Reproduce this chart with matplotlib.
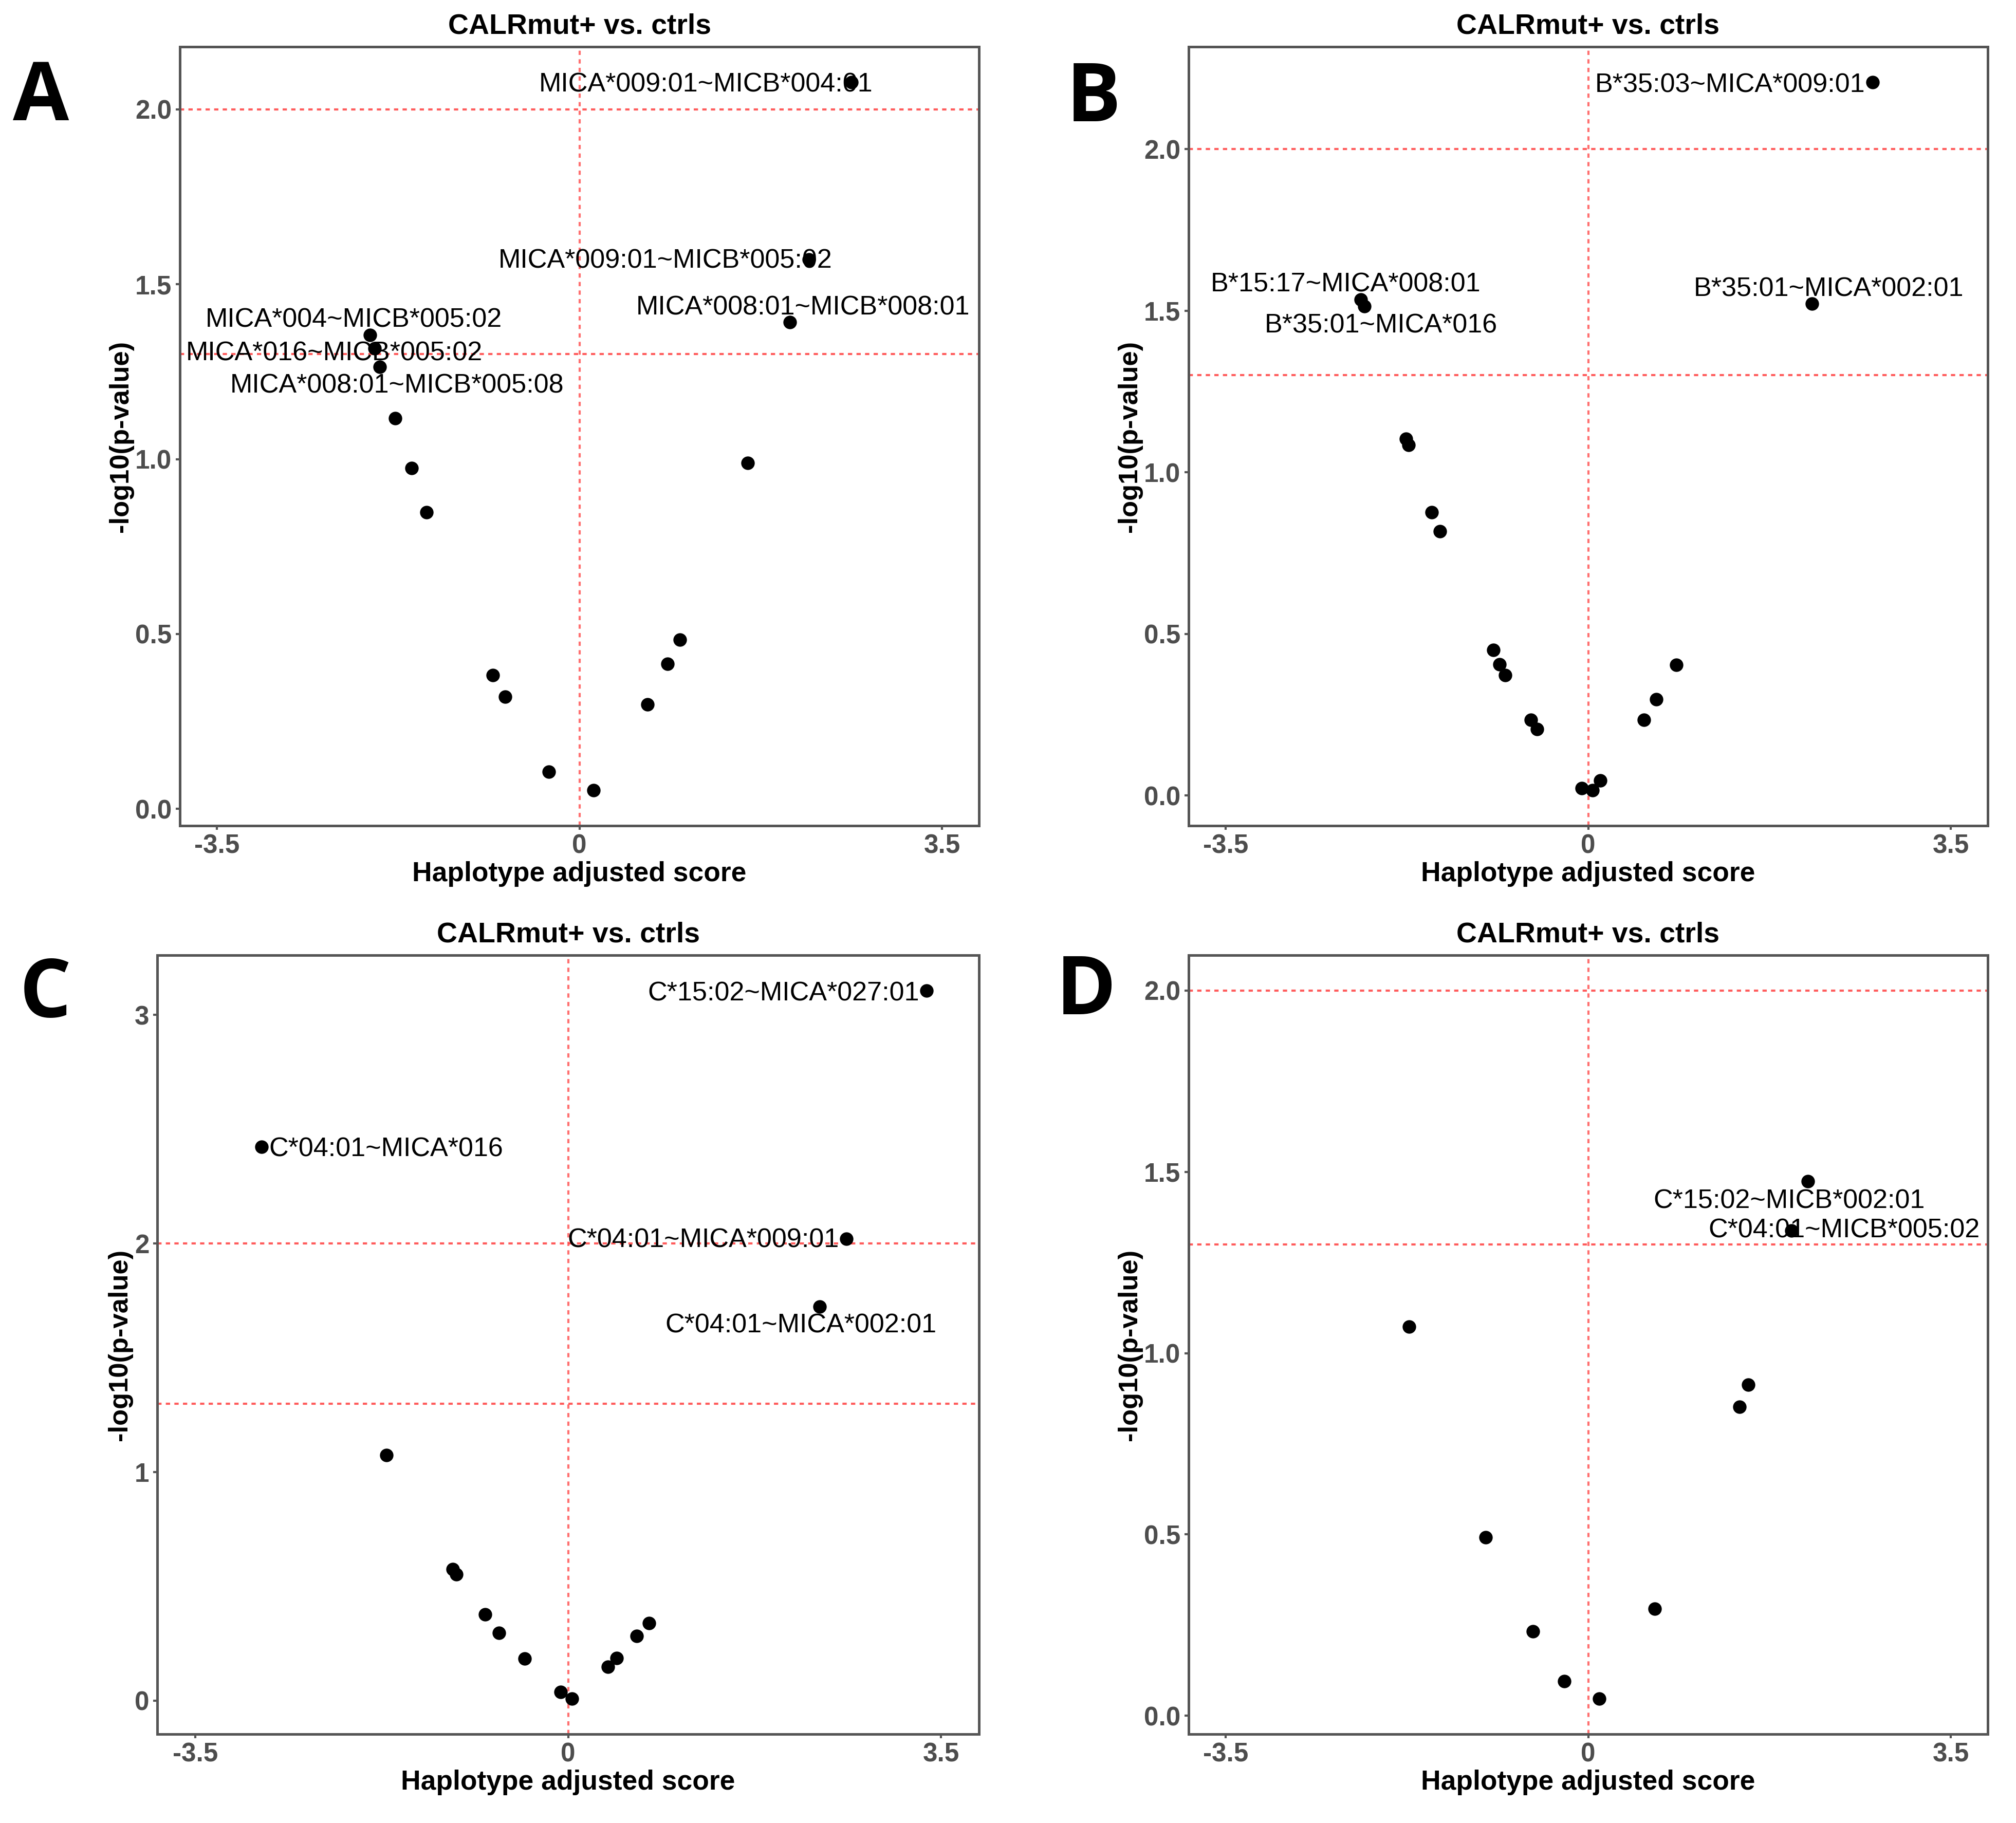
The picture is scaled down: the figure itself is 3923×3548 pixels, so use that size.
import numpy as np
import matplotlib
matplotlib.use("Agg")
import matplotlib.pyplot as plt

# ---------------- data ----------------
a_x = [2.625, 2.217, 2.032, -2.02, -1.977, -1.927, -1.779, -1.618, -1.476,
       -0.834, -0.716, -0.296, 0.136, 0.655, 0.852, 0.970, 1.624]
a_y = [2.078, 1.571, 1.392, 1.355, 1.317, 1.264, 1.117, 0.974, 0.848,
       0.382, 0.321, 0.106, 0.053, 0.298, 0.414, 0.484, 0.989]
a_labels = ["MICA*009:01~MICB*004:01", "MICA*009:01~MICB*005:02",
            "MICA*008:01~MICB*008:01", "MICA*004~MICB*005:02",
            "MICA*016~MICB*005:02", "MICA*008:01~MICB*005:08"]

b_x = [2.745, -2.193, -2.162, 2.162, -1.76, -1.735, -1.512, -1.431, -0.917,
       -0.855, -0.799, -0.551, -0.496, -0.062, 0.043, 0.118, 0.539, 0.657, 0.849]
b_y = [2.207, 1.535, 1.514, 1.521, 1.103, 1.085, 0.877, 0.818, 0.450,
       0.405, 0.373, 0.234, 0.205, 0.022, 0.016, 0.047, 0.234, 0.297, 0.404]
b_labels = ["B*35:03~MICA*009:01", "B*15:17~MICA*008:01",
            "B*35:01~MICA*016", "B*35:01~MICA*002:01"]

c_x = [3.367, -2.88, 2.614, 2.361, -1.705, -1.084, -1.048, -0.777, -0.651,
       -0.410, -0.072, 0.036, 0.373, 0.458, 0.645, 0.759]
c_y = [3.107, 2.423, 2.021, 1.724, 1.073, 0.575, 0.552, 0.376, 0.297,
       0.183, 0.038, 0.008, 0.147, 0.186, 0.282, 0.338]
c_labels = ["C*15:02~MICA*027:01", "C*04:01~MICA*016",
            "C*04:01~MICA*009:01", "C*04:01~MICA*002:01"]

d_x = [2.119, 1.964, -1.729, 1.543, 1.462, -0.991, 0.644, -0.533, -0.229, 0.105]
d_y = [1.474, 1.338, 1.073, 0.913, 0.852, 0.492, 0.295, 0.233, 0.095, 0.047]
d_labels = ["C*15:02~MICB*002:01", "C*04:01~MICB*005:02"]

x_ticks = [-3.5, 0, 3.5]
x_ticklabels = ["-3.5", "0", "3.5"]
y_ticks_half = [0.0, 0.5, 1.0, 1.5, 2.0]
y_ticks_int = [0, 1, 2, 3]
thresholds = [2.0, 1.3]
panel_letters = ["A", "B", "C", "D"]
title = "CALRmut+ vs. ctrls"
xlabel = "Haplotype adjusted score"
ylabel = "-log10(p-value)"

# ---------------- layout / style ----------------
label_pos = {
    "A": [(1.22, 2.07), (0.83, 1.566), (2.156, 1.433), (-2.18, 1.397),
          (-2.366, 1.302), (-1.76, 1.209)],
    "B": [(1.369, 2.198), (-2.342, 1.580), (-2.0, 1.454), (2.323, 1.566)],
    "C": [(2.024, 3.094), (-1.71, 2.413), (1.271, 2.014), (2.187, 1.640)],
    "D": [(1.939, 1.419), (2.472, 1.338)],
}

W, H = 3923, 3548
fig = plt.figure(figsize=(W / 300, H / 300), dpi=300)

def frac(l, t, r, b):
    return [l / W, 1 - b / H, (r - l) / W, (b - t) / H]

rects = {
    "A": frac(350, 91, 1905, 1607),
    "B": frac(2313, 91, 3868, 1607),
    "C": frac(306, 1859, 1905, 3375),
    "D": frac(2313, 1859, 3868, 3375),
}
letter_pos = {"A": (80, 193), "B": (2128, 195), "C": (88, 1938), "D": (2113, 1933)}

panels = {
    "A": (a_x, a_y, a_labels, y_ticks_half, "{:.1f}"),
    "B": (b_x, b_y, b_labels, y_ticks_half, "{:.1f}"),
    "C": (c_x, c_y, c_labels, y_ticks_int, "{:d}"),
    "D": (d_x, d_y, d_labels, y_ticks_half, "{:.1f}"),
}

sans = ["Liberation Sans", "DejaVu Sans"]
border = "#555555"

for key in panel_letters:
    xs, ys, labs, yt, fmt = panels[key]
    ax = fig.add_axes(rects[key])
    yv = np.array(ys)
    lo = min(yv.min(), min(thresholds))
    hi = max(yv.max(), max(thresholds))
    pad = 0.05 * (hi - lo)
    ax.set_ylim(lo - pad, hi + pad)
    ax.set_xlim(-3.857, 3.857)

    for t in thresholds:
        ax.axhline(t, color="#ff3333", lw=1.0, ls=(0, (2, 2)), alpha=0.8, zorder=1)
    ax.axvline(0, color="#ff3333", lw=1.0, ls=(0, (2, 2)), alpha=0.7, zorder=1)

    ax.scatter(xs, ys, s=40, color="black", zorder=3, linewidths=0)

    for lab, (lx, ly) in zip(labs, label_pos[key]):
        ax.text(lx, ly, lab, ha="center", va="center", fontsize=12.5,
                family=sans, color="black", zorder=4)

    ax.set_xticks(x_ticks)
    ax.set_xticklabels(x_ticklabels)
    ax.set_yticks(yt)
    ax.set_yticklabels([fmt.format(v) for v in yt])
    ax.tick_params(length=2, width=1.0, color=border, pad=1.8, labelsize=12.3,
                   labelcolor="#4D4D4D")
    for tl in ax.get_xticklabels() + ax.get_yticklabels():
        tl.set_fontweight("bold")
        tl.set_family(sans)
    for sp in ax.spines.values():
        sp.set_color(border)
        sp.set_linewidth(1.2)

    ax.set_title(title, fontsize=13.3, fontweight="bold", family=sans, pad=6)
    ax.set_xlabel(xlabel, fontsize=12.8, fontweight="bold", family=sans, labelpad=1)
    ax.set_ylabel(ylabel, fontsize=12.6, fontweight="bold", family=sans, labelpad=0.8)

    lx, ly = letter_pos[key]
    fig.text(lx / W, 1 - ly / H, key, ha="center", va="center", fontsize=38,
             fontweight="bold", family=["Open Sans", "DejaVu Sans"])

fig.savefig("out.png", dpi=300)
